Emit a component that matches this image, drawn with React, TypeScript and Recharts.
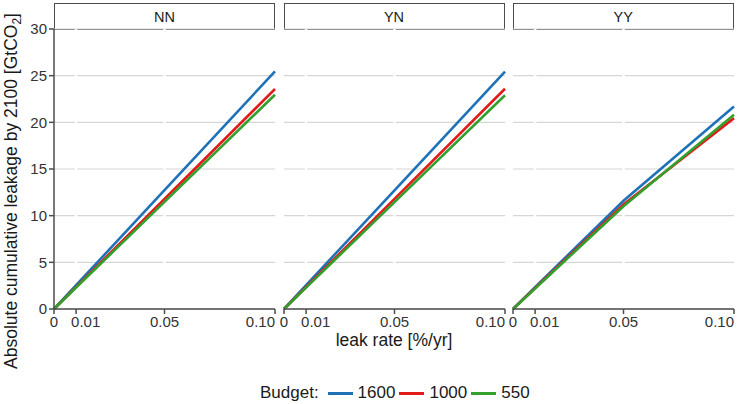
import { CartesianGrid, Line, LineChart, ReferenceLine, XAxis, YAxis } from "recharts";

const LEAK_RATES = [0, 0.01, 0.05, 0.1];
const X_TICKS = [0, 0.01, 0.05, 0.1];
const X_TICK_LABELS = ["0", "0.01", "0.05", "0.10"];
const Y_TICKS = [0, 5, 10, 15, 20, 25, 30];
const SCENARIOS = ["NN", "YN", "YY"];
const BUDGETS = ["1600", "1000", "550"];
const BUDGET_COLORS: Record<string, string> = {
  "1600": "#1F72B8",
  "1000": "#E31A1C",
  "550": "#33A02C",
};

// cumulative leakage by 2100 [GtCO2] at each leak rate
const NN_1600 = [0, 2.55, 12.73, 25.46];
const NN_1000 = [0, 2.36, 11.79, 23.57];
const NN_550 = [0, 2.3, 11.48, 22.96];
const YN_1600 = [0, 2.55, 12.72, 25.43];
const YN_1000 = [0, 2.36, 11.8, 23.6];
const YN_550 = [0, 2.29, 11.45, 22.9];
const YY_1600 = [0, 2.35, 11.6, 21.7];
const YY_1000 = [0, 2.25, 11.2, 20.45];
const YY_550 = [0, 2.2, 11.0, 20.8];

const SERIES: Record<string, number[][]> = {
  NN: [NN_1600, NN_1000, NN_550],
  YN: [YN_1600, YN_1000, YN_550],
  YY: [YY_1600, YY_1000, YY_550],
};

const FONT = "'Liberation Sans', Arial, sans-serif";
const PLOT_TOP = 29.3;
const PLOT_H = 280;
const TOP_PAD = 12;
const PANEL_X = [54, 283.5, 512.7];
const PANEL_W = 221;

function buildRows(name: string) {
  const s = SERIES[name];
  return LEAK_RATES.map((rate, i) => {
    const row: Record<string, number> = { rate };
    BUDGETS.forEach((b, j) => {
      row[b] = s[j][i];
    });
    return row;
  });
}

function XTick(props: any) {
  const { x, y, payload } = props;
  const i = X_TICKS.indexOf(payload.value);
  const anchor = i === 1 ? "start" : i === 3 ? "end" : "middle";
  const dx = i === 1 ? -5 : 0;
  return (
    <text x={x + dx} y={y} dy={11} textAnchor={anchor} fontSize={15} fill="#333" fontFamily={FONT}>
      {X_TICK_LABELS[i]}
    </text>
  );
}

function Panel({ name, index }: { name: string; index: number }) {
  const first = index === 0;
  const left = first ? 0 : PANEL_X[index] - 12;
  const marginLeft = first ? 0 : 12;
  const marginRight = index === 2 ? 3 : 15;
  const yWidth = first ? PANEL_X[0] : 0;
  const width = yWidth + marginLeft + PANEL_W + marginRight;
  return (
    <>
      <div
        style={{
          position: "absolute",
          left: PANEL_X[index],
          top: 3,
          width: PANEL_W,
          height: PLOT_TOP - 3 + 0.7,
          boxSizing: "border-box",
          border: "1.3px solid #4d4d4d",
          background: "#fff",
          fontFamily: FONT,
          fontSize: 14.5,
          color: "#1a1a1a",
          display: "flex",
          alignItems: "center",
          justifyContent: "center",
        }}
      >
        {name}
      </div>
      <div style={{ position: "absolute", left, top: PLOT_TOP - TOP_PAD }}>
        <LineChart
          width={width}
          height={PLOT_H + 30 + TOP_PAD}
          data={buildRows(name)}
          margin={{ top: TOP_PAD, right: marginRight, bottom: 0, left: marginLeft }}
        >
          <CartesianGrid stroke="#d6d6d6" strokeWidth={1.2} vertical={false} />
          <XAxis
            dataKey="rate"
            type="number"
            domain={[0, 0.1]}
            ticks={X_TICKS}
            interval={0}
            height={30}
            axisLine={{ stroke: "#4d4d4d", strokeWidth: 1.5 }}
            tickLine={{ stroke: "#4d4d4d", strokeWidth: 1.5 }}
            tickSize={5}
            tickMargin={2}
            tick={<XTick />}
          />
          <YAxis
            type="number"
            domain={[0, 30]}
            ticks={Y_TICKS}
            interval={0}
            width={yWidth}
            hide={!first}
            axisLine={{ stroke: "#4d4d4d", strokeWidth: 1.5 }}
            tickLine={{ stroke: "#4d4d4d", strokeWidth: 1.5 }}
            tickSize={5}
            tickMargin={2}
            tick={{ fontSize: 15, fill: "#333", fontFamily: FONT }}
          />
          {X_TICKS.slice(1, 3).map((t) => (
            <ReferenceLine key={t} x={t} stroke="#ffffff" strokeWidth={2.6} />
          ))}
          {BUDGETS.map((b) => (
            <Line
              key={b}
              type="linear"
              dataKey={b}
              stroke={BUDGET_COLORS[b]}
              strokeWidth={2.6}
              dot={false}
              isAnimationActive={false}
            />
          ))}
        </LineChart>
      </div>
    </>
  );
}

export default function App() {
  return (
    <div style={{ position: "absolute", left: 0, top: 0, width: 737, height: 404, background: "#fff" }}>
      {SCENARIOS.map((s, i) => (
        <Panel key={s} name={s} index={i} />
      ))}
      <svg style={{ position: "absolute", left: 0, top: 0 }} width={737} height={404}>
        <text
          transform="translate(17,191) rotate(-90)"
          textAnchor="middle"
          fontSize={17.5}
          fill="#1a1a1a"
          fontFamily={FONT}
        >
          Absolute cumulative leakage by 2100 [GtCO
          <tspan fontSize={12} dy={4}>
            2
          </tspan>
          <tspan dy={-4}>]</tspan>
        </text>
        <text x={394} y={346} textAnchor="middle" fontSize={17.5} fill="#1a1a1a" fontFamily={FONT}>
          leak rate [%/yr]
        </text>
      </svg>
      <div
        style={{
          position: "absolute",
          left: 260,
          top: 382,
          height: 22,
          display: "flex",
          alignItems: "center",
          fontFamily: FONT,
          fontSize: 17,
          color: "#1a1a1a",
        }}
      >
        <span style={{ marginRight: 9 }}>Budget:</span>
        {BUDGETS.map((b) => (
          <span key={b} style={{ display: "flex", alignItems: "center", marginRight: 4 }}>
            <span style={{ width: 25, height: 3, background: BUDGET_COLORS[b], marginRight: 5 }} />
            <span>{b}</span>
          </span>
        ))}
      </div>
    </div>
  );
}
